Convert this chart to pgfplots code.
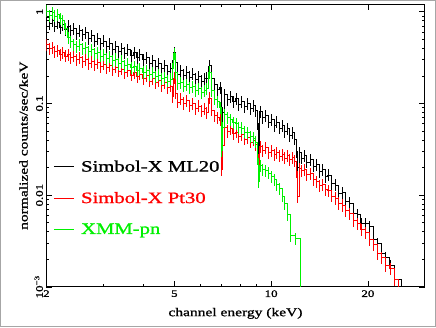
\documentclass[border=0pt]{standalone}
\usepackage{pgfplots}
\pgfplotsset{compat=1.18}
\usepackage{pgfplotstable}
\usepackage{fontspec}
\setmainfont[FakeStretch=1.3, FakeBold=1.2]{Liberation Serif}

\definecolor{SpRed}{HTML}{FF0000}
\definecolor{SpGreen}{HTML}{00F000}

% Simbol-X ML20
\pgfplotstableread{
E y
2.00 0.86
2.04 0.74
2.08 0.81
2.12 0.70
2.16 0.77
2.20 0.68
2.24 0.73
2.28 0.64
2.33 0.70
2.38 0.62
2.43 0.66
2.48 0.58
2.53 0.63
2.58 0.56
2.64 0.59
2.70 0.51
2.76 0.55
2.82 0.48
2.88 0.51
2.94 0.45
3.00 0.48
3.07 0.42
3.14 0.45
3.21 0.39
3.28 0.42
3.35 0.37
3.42 0.40
3.50 0.355
3.58 0.385
3.66 0.335
3.74 0.36
3.82 0.32
3.90 0.34
3.99 0.30
4.08 0.32
4.17 0.275
4.26 0.295
4.36 0.255
4.46 0.275
4.56 0.24
4.66 0.258
4.76 0.226
4.86 0.24
4.93 0.26
4.98 0.36
5.04 0.28
5.12 0.21
5.22 0.23
5.33 0.204
5.44 0.22
5.56 0.195
5.68 0.21
5.80 0.185
5.92 0.198
6.05 0.176
6.18 0.188
6.30 0.19
6.38 0.22
6.44 0.26
6.52 0.19
6.65 0.16
6.80 0.142
6.92 0.15
6.98 0.022
7.05 0.08
7.15 0.125
7.30 0.11
7.45 0.12
7.60 0.105
7.76 0.113
7.92 0.098
8.08 0.106
8.25 0.092
8.42 0.10
8.60 0.088
8.78 0.095
8.95 0.084
9.05 0.06
9.12 0.018
9.22 0.082
9.40 0.07
9.60 0.074
9.80 0.063
10.0 0.067
10.2 0.058
10.4 0.063
10.6 0.054
10.8 0.058
11.0 0.05
11.2 0.053
11.4 0.045
11.6 0.048
11.8 0.041
11.95 0.03
12.05 0.02
12.2 0.029
12.4 0.0255
12.65 0.0272
12.9 0.023
13.2 0.0244
13.5 0.0208
13.8 0.0218
14.1 0.0183
14.4 0.019
14.7 0.016
15.0 0.0166
15.4 0.0134
15.8 0.0129
16.2 0.0105
16.6 0.0106
17.0 0.0085
17.5 0.0082
18.0 0.0063
18.5 0.0062
19.0 0.0049
19.6 0.0049
20.2 0.0046
20.8 0.0033
21.4 0.0030
22.0 0.0023
22.7 0.0021
23.4 0.0017
24.2 0.0012
25.4 0.00005
}\mltab

% Simbol-X Pt30
\pgfplotstableread{
E y
2.00 0.44
2.04 0.40
2.08 0.41
2.12 0.37
2.16 0.38
2.20 0.34
2.24 0.36
2.28 0.33
2.33 0.345
2.38 0.315
2.43 0.33
2.48 0.30
2.53 0.315
2.58 0.285
2.64 0.30
2.70 0.275
2.76 0.29
2.82 0.265
2.88 0.28
2.94 0.255
3.00 0.27
3.07 0.245
3.14 0.258
3.21 0.235
3.28 0.25
3.35 0.226
3.42 0.238
3.50 0.216
3.58 0.228
3.66 0.205
3.74 0.22
3.82 0.198
3.90 0.21
3.99 0.188
4.08 0.20
4.17 0.176
4.26 0.187
4.36 0.168
4.46 0.178
4.56 0.158
4.66 0.168
4.76 0.148
4.86 0.155
4.93 0.12
4.98 0.19
5.04 0.13
5.12 0.104
5.22 0.112
5.33 0.101
5.44 0.107
5.56 0.096
5.68 0.10
5.80 0.089
5.92 0.094
6.05 0.083
6.18 0.088
6.30 0.08
6.38 0.10
6.44 0.115
6.52 0.085
6.65 0.074
6.80 0.071
6.92 0.066
6.98 0.019
7.05 0.035
7.15 0.055
7.30 0.05
7.45 0.053
7.60 0.047
7.76 0.049
7.92 0.044
8.08 0.046
8.25 0.041
8.42 0.043
8.60 0.038
8.78 0.040
8.95 0.036
9.05 0.028
9.12 0.016
9.22 0.034
9.40 0.031
9.60 0.033
9.80 0.0295
10.0 0.031
10.2 0.028
10.4 0.0295
10.6 0.0268
10.8 0.028
11.0 0.0255
11.2 0.027
11.4 0.0245
11.6 0.0258
11.8 0.0236
11.95 0.018
12.05 0.0097
12.2 0.0197
12.4 0.0185
12.65 0.0192
12.9 0.0168
13.2 0.0172
13.5 0.0148
13.8 0.0142
14.1 0.0128
14.4 0.0132
14.7 0.0116
15.0 0.0112
15.4 0.0098
15.8 0.0093
16.2 0.0082
16.6 0.0078
17.0 0.0068
17.5 0.0063
18.0 0.0053
18.5 0.0049
19.0 0.0042
19.6 0.0039
20.2 0.0033
20.8 0.0029
21.4 0.0023
22.0 0.0021
22.7 0.0017
23.4 0.0016
24.2 0.0012
24.9 0.00005
}\pttab

% XMM-pn
\pgfplotstableread{
E y
2.00 1.02
2.04 0.92
2.08 0.98
2.12 0.90
2.16 0.94
2.20 0.85
2.24 0.80
2.28 0.66
2.33 0.52
2.38 0.47
2.43 0.44
2.48 0.42
2.53 0.44
2.58 0.40
2.64 0.41
2.70 0.37
2.76 0.385
2.82 0.35
2.88 0.36
2.94 0.33
3.00 0.345
3.07 0.31
3.14 0.325
3.21 0.295
3.28 0.305
3.35 0.275
3.42 0.29
3.50 0.26
3.58 0.27
3.66 0.245
3.74 0.255
3.82 0.232
3.90 0.242
3.99 0.22
4.08 0.23
4.17 0.208
4.26 0.216
4.36 0.196
4.46 0.205
4.56 0.186
4.66 0.193
4.76 0.176
4.86 0.185
4.93 0.24
4.98 0.35
5.04 0.22
5.12 0.165
5.22 0.17
5.33 0.155
5.44 0.162
5.56 0.148
5.68 0.154
5.80 0.14
5.92 0.145
6.05 0.132
6.18 0.138
6.30 0.145
6.38 0.19
6.44 0.22
6.52 0.14
6.65 0.112
6.80 0.105
6.92 0.09
6.98 0.031
7.05 0.055
7.15 0.076
7.30 0.07
7.45 0.067
7.60 0.062
7.76 0.06
7.92 0.055
8.08 0.054
8.25 0.049
8.42 0.048
8.60 0.044
8.78 0.042
8.95 0.038
9.05 0.025
9.12 0.014
9.22 0.021
9.40 0.019
9.60 0.0185
9.80 0.0175
10.0 0.016
10.2 0.0148
10.4 0.0132
10.6 0.0118
10.8 0.0098
11.0 0.0082
11.2 0.0062
11.5 0.0036
11.9 0.0034
12.3 0.00005
}\pntab

\begin{document}
\begin{tikzpicture}
\draw[gray!70, line width=1bp] (0,0) rectangle (436bp,327bp);
\begin{axis}[
  at={(46bp,40bp)}, anchor=south west,
  scale only axis, width=379bp, height=283bp,
  xmode=log, ymode=log,
  xmin=2, xmax=30, ymin=0.001, ymax=1.2,
  xtick={2,5,10,20}, xticklabels={2,5,10,20},
  minor xtick={3,4,6,7,8,9,30},
  ytick={0.001,0.01,0.1,1},
  yticklabels={10\textsuperscript{−3},0.01,0.1,1},
  yticklabel style={rotate=90, anchor=south},
  tick align=inside,
  major tick length=6bp, minor tick length=3bp,
  tick label style={font=\fontsize{10}{11}\selectfont},
  xlabel={channel energy (keV)},
  ylabel={normalized counts/sec/keV},
  label style={font=\fontsize{12}{13}\selectfont},
  xlabel style={yshift=-4bp},
  axis line style={black, line width=0.8pt},
  every tick/.style={black, line width=0.6pt},
  legend image code/.code={\draw[#1] (0bp,0bp) -- (20bp,0bp);},
  legend style={at={(0.01,0.462)}, anchor=north west, draw=none, fill=none,
    font=\fontsize{16}{17}\selectfont, row sep=15bp,
    /tikz/every odd column/.append style={column sep=5bp}},
  legend cell align=left,
]
\addlegendimage{black, line width=0.8pt}
\addlegendentry{Simbol-X ML20}
\addlegendimage{SpRed, line width=0.8pt}
\addlegendentry{\textcolor{SpRed}{Simbol-X Pt30}}
\addlegendimage{SpGreen, line width=0.8pt}
\addlegendentry{\textcolor{SpGreen}{XMM-pn}}

\addplot[const plot, black, line width=0.7pt, forget plot,
  error bars/.cd, y dir=both, y fixed relative=0.15, error mark=none]
  table {\mltab};
\addplot[const plot, SpRed, line width=0.7pt, forget plot,
  error bars/.cd, y dir=both, y fixed relative=0.15, error mark=none]
  table {\pttab};
\addplot[const plot, SpGreen, line width=0.7pt, forget plot,
  error bars/.cd, y dir=both, y fixed relative=0.15, error mark=none]
  table {\pntab};
\end{axis}
\end{tikzpicture}
\end{document}
